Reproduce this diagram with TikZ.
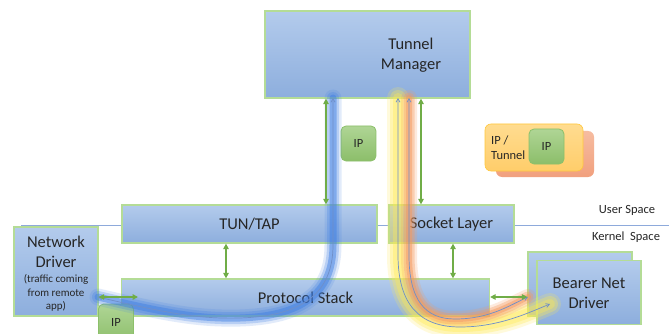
\documentclass[tikz,border=0pt]{standalone}
\usepackage{fontspec}
\setmainfont{Carlito}
\usetikzlibrary{arrows.meta}
\definecolor{boxtop}{HTML}{B3CBEC}
\definecolor{boxbot}{HTML}{8DAEDD}
\definecolor{boxedge}{HTML}{B4DC96}
\definecolor{arrowgreen}{HTML}{70AD47}
\definecolor{ipfilltop}{HTML}{AFD595}
\definecolor{ipfillbot}{HTML}{8CBE6A}
\definecolor{ipedge}{HTML}{8CC06A}
\definecolor{sepline}{HTML}{8EAADB}
\definecolor{pathline}{HTML}{6F8FC8}
\definecolor{glowblue}{HTML}{3D7EE3}
\definecolor{glowyellow}{HTML}{FFEA50}
\definecolor{gloworange}{HTML}{F59A5E}
\definecolor{tagtop}{HTML}{FFDC90}
\definecolor{tagbot}{HTML}{FFCD6A}
\definecolor{tagedge}{HTML}{FFC83C}
\definecolor{tagbacktop}{HTML}{F6BCA0}
\definecolor{tagbackbot}{HTML}{F1A07E}
\definecolor{txt}{HTML}{262626}
\tikzset{
  box/.style={draw=boxedge, line width=1.3pt, top color=boxtop, bottom color=boxbot,
    rectangle, inner sep=0pt, text=txt, font=\fontsize{16.5}{20}\selectfont, align=center},
  ipbox/.style={draw=ipedge, line width=0.8pt, top color=ipfilltop, bottom color=ipfillbot,
    rounded corners=5pt, inner sep=0pt, minimum width=35pt, minimum height=35pt,
    text=txt, font=\fontsize{12.5}{15}\selectfont},
  label/.style={text=txt, inner sep=0pt, align=center},
  biglabel/.style={label, font=\fontsize{16.5}{20}\selectfont},
  smalllabel/.style={label, font=\fontsize{11}{13.5}\selectfont},
  midlabel/.style={label, font=\fontsize{12.5}{15}\selectfont},
  link/.style={draw=arrowgreen, line width=1.6pt,
    {Triangle[length=5.5pt,width=5.5pt]}-{Triangle[length=5.5pt,width=5.5pt]}},
  flow/.style={draw=pathline, line width=0.7pt,
    {Straight Barb[length=3.5pt,width=4pt]}-{Straight Barb[length=3.5pt,width=4pt]}},
}
% routes of the traffic flows
\def\bluepath{(98,297) .. controls (170,314) and (200,319) .. (240,318)
  .. controls (300,316) and (333,295) .. (333,245) -- (333,98)}
\def\yellowpath{(398,98) -- (398,255) .. controls (398,305) and (420,327) .. (460,327)
  .. controls (500,327) and (530,312) .. (550,304)}
\def\orangepath{(409,98) -- (409,255) .. controls (409,300) and (425,319) .. (455,319)
  .. controls (490,319) and (510,305) .. (528,297)}
\begin{document}
\begin{tikzpicture}[x=1pt, y=-1pt]
\useasboundingbox (0,0) rectangle (669,334);
\fill[white] (0,0) rectangle (669,334);

% user / kernel space separator
\coordinate (sepL) at (21,225);
\coordinate (sepR) at (669,225);
\draw[sepline, line width=0.6pt] (sepL) -- (sepR);
\node[midlabel, anchor=base] (us) at (627,213) {User Space};
\node[midlabel, anchor=base] (ks) at (626,240) {Kernel\ \ Space};

% blocks
\node[box, minimum width=205pt, minimum height=87pt] (tm) at (367.5,54.5) {};
\node[biglabel] (tmtext) at (411,55) {Tunnel\\Manager};
\node[box, minimum width=255pt, minimum height=38pt] (tun) at (249.5,224) {TUN/TAP};
\node[box, minimum width=125pt, minimum height=38pt] (sock) at (451.5,224) {Socket Layer};
\node[box, minimum width=368pt, minimum height=37pt] (ps) at (305.5,297.5) {Protocol Stack};
\node[box, minimum width=84pt, minimum height=89pt] (nd) at (56,271.5) {};
\node[biglabel] (ndtext) at (56,252) {Network\\Driver};
\node[smalllabel] (ndnote) at (56,293) {(traffic coming\\from remote\\app)};
\node[box, minimum width=104pt, minimum height=64pt] (bnd2) at (580,284) {};
\node[box, minimum width=104pt, minimum height=64pt] (bnd) at (589,292.5) {};
\node[biglabel] (bndtext) at (589,293) {Bearer Net\\Driver};

% packet type tags
\node[ipbox] (ip1) at (358.5,143.5) {IP};
\node[ipbox, minimum height=40pt] (ip2) at (116,324) {};
\node[midlabel] (ip2text) at (116,322) {IP};
\node[draw=none, rounded corners=6pt, top color=tagbacktop, bottom color=tagbackbot,
  minimum width=98pt, minimum height=46pt] (tunback) at (545,154) {};
\node[draw=tagedge, line width=0.6pt, rounded corners=6pt, top color=tagtop,
  bottom color=tagbot, minimum width=98pt, minimum height=47pt] (tunfront) at (534,147.5) {};
\node[midlabel, align=left, anchor=west] (tuntext) at (491,147.5) {IP /\\Tunnel};
\node[ipbox] (ip3) at (546.5,146.5) {IP};

% traffic glows
\draw[glowyellow, line width=22pt, line cap=round, opacity=0.2] \yellowpath;
\draw[glowyellow, line width=16pt, line cap=round, opacity=0.3] \yellowpath;
\draw[glowyellow, line width=10pt, line cap=round, opacity=0.35] \yellowpath;
\draw[gloworange, line width=16pt, line cap=round, opacity=0.2] \orangepath;
\draw[gloworange, line width=11pt, line cap=round, opacity=0.35] \orangepath;
\draw[gloworange, line width=6pt, line cap=round, opacity=0.5] \orangepath;
\draw[glowblue, line width=17pt, line cap=round, opacity=0.15] \bluepath;
\draw[glowblue, line width=12pt, line cap=round, opacity=0.25] \bluepath;
\draw[glowblue, line width=7pt, line cap=round, opacity=0.45] \bluepath;

% traffic flows
\draw[flow] \bluepath;
\draw[flow] \yellowpath;
\draw[flow] \orangepath;

% interfaces between blocks
\draw[link] (tm.south -| 326,0) -- (tun.north -| 326,0);
\draw[link] (tm.south -| 421,0) -- (sock.north -| 421,0);
\draw[link] (tun.south -| 226,0) -- (ps.north -| 226,0);
\draw[link] (sock.south -| 453,0) -- (ps.north -| 453,0);
\draw[link] (nd.east |- 0,297) -- (138,297);
\draw[link] (ps.east |- 0,297) -- (bnd2.west |- 0,297);
\end{tikzpicture}
\end{document}
